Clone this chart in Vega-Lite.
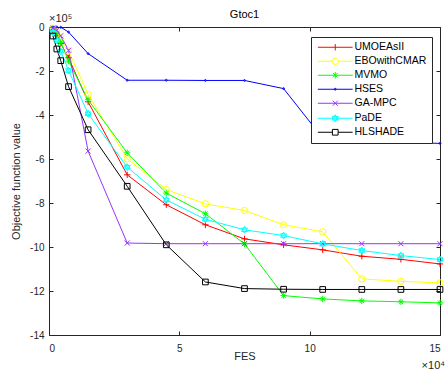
{
  "$schema": "https://vega.github.io/schema/vega-lite/v6.json",
  "width": 391,
  "height": 308,
  "autosize": "none",
  "padding": {"left": 49, "top": 27, "right": 6, "bottom": 45},
  "background": "white",
  "config": {
    "view": {"stroke": null},
    "font": "Liberation Sans",
    "axis": {
      "grid": false,
      "labelFont": "Liberation Sans",
      "labelFontSize": 10,
      "labelColor": "#262626",
      "domainColor": "#262626",
      "tickColor": "#262626",
      "tickSize": -4,
      "titleFont": "Liberation Sans",
      "titleFontSize": 11,
      "titleFontWeight": "normal",
      "titleColor": "#262626"
    }
  },
  "title": {"text": "Gtoc1", "font": "Liberation Sans", "fontSize": 11, "fontWeight": "normal", "color": "#000000", "offset": 8, "dy": 15},
  "datasets": {
    "conv": [
      {"a": "UMOEAsII", "x": 0.15, "y": -0.15}, {"a": "UMOEAsII", "x": 0.3, "y": -0.4}, {"a": "UMOEAsII", "x": 0.45, "y": -0.75}, {"a": "UMOEAsII", "x": 0.75, "y": -1.4}, {"a": "UMOEAsII", "x": 1.5, "y": -3.4}, {"a": "UMOEAsII", "x": 3, "y": -6.72}, {"a": "UMOEAsII", "x": 4.5, "y": -8.08}, {"a": "UMOEAsII", "x": 6, "y": -8.99}, {"a": "UMOEAsII", "x": 7.5, "y": -9.63}, {"a": "UMOEAsII", "x": 9, "y": -9.9}, {"a": "UMOEAsII", "x": 10.5, "y": -10.13}, {"a": "UMOEAsII", "x": 12, "y": -10.42}, {"a": "UMOEAsII", "x": 13.5, "y": -10.56}, {"a": "UMOEAsII", "x": 15, "y": -10.77},
      {"a": "EBOwithCMAR", "x": 0.15, "y": -0.05}, {"a": "EBOwithCMAR", "x": 0.3, "y": -0.2}, {"a": "EBOwithCMAR", "x": 0.45, "y": -0.5}, {"a": "EBOwithCMAR", "x": 0.75, "y": -1.09}, {"a": "EBOwithCMAR", "x": 1.5, "y": -3.07}, {"a": "EBOwithCMAR", "x": 3, "y": -5.99}, {"a": "EBOwithCMAR", "x": 4.5, "y": -7.39}, {"a": "EBOwithCMAR", "x": 6, "y": -8.04}, {"a": "EBOwithCMAR", "x": 7.5, "y": -8.34}, {"a": "EBOwithCMAR", "x": 9, "y": -8.99}, {"a": "EBOwithCMAR", "x": 10.5, "y": -9.31}, {"a": "EBOwithCMAR", "x": 12, "y": -11.45}, {"a": "EBOwithCMAR", "x": 13.5, "y": -11.56}, {"a": "EBOwithCMAR", "x": 15, "y": -11.63},
      {"a": "MVMO", "x": 0.15, "y": -0.1}, {"a": "MVMO", "x": 0.3, "y": -0.3}, {"a": "MVMO", "x": 0.45, "y": -0.7}, {"a": "MVMO", "x": 0.75, "y": -1.55}, {"a": "MVMO", "x": 1.5, "y": -3.31}, {"a": "MVMO", "x": 3, "y": -5.72}, {"a": "MVMO", "x": 4.5, "y": -7.55}, {"a": "MVMO", "x": 6, "y": -8.49}, {"a": "MVMO", "x": 7.5, "y": -9.86}, {"a": "MVMO", "x": 9, "y": -12.21}, {"a": "MVMO", "x": 10.5, "y": -12.36}, {"a": "MVMO", "x": 12, "y": -12.45}, {"a": "MVMO", "x": 13.5, "y": -12.49}, {"a": "MVMO", "x": 15, "y": -12.54},
      {"a": "HSES", "x": 0.15, "y": 0}, {"a": "HSES", "x": 0.3, "y": 0}, {"a": "HSES", "x": 0.45, "y": -0.01}, {"a": "HSES", "x": 0.75, "y": -0.23}, {"a": "HSES", "x": 1.5, "y": -1.21}, {"a": "HSES", "x": 3, "y": -2.42}, {"a": "HSES", "x": 4.5, "y": -2.42}, {"a": "HSES", "x": 6, "y": -2.43}, {"a": "HSES", "x": 7.5, "y": -2.43}, {"a": "HSES", "x": 9, "y": -2.8}, {"a": "HSES", "x": 10.5, "y": -5.05}, {"a": "HSES", "x": 12, "y": -5.2}, {"a": "HSES", "x": 13.5, "y": -5.25}, {"a": "HSES", "x": 15, "y": -5.29},
      {"a": "GA-MPC", "x": 0.15, "y": -0.05}, {"a": "GA-MPC", "x": 0.3, "y": -0.15}, {"a": "GA-MPC", "x": 0.45, "y": -0.4}, {"a": "GA-MPC", "x": 0.75, "y": -1.06}, {"a": "GA-MPC", "x": 1.5, "y": -5.64}, {"a": "GA-MPC", "x": 3, "y": -9.82}, {"a": "GA-MPC", "x": 4.5, "y": -9.85}, {"a": "GA-MPC", "x": 6, "y": -9.85}, {"a": "GA-MPC", "x": 7.5, "y": -9.85}, {"a": "GA-MPC", "x": 9, "y": -9.85}, {"a": "GA-MPC", "x": 10.5, "y": -9.85}, {"a": "GA-MPC", "x": 12, "y": -9.85}, {"a": "GA-MPC", "x": 13.5, "y": -9.85}, {"a": "GA-MPC", "x": 15, "y": -9.85},
      {"a": "PaDE", "x": 0.15, "y": -0.25}, {"a": "PaDE", "x": 0.3, "y": -0.6}, {"a": "PaDE", "x": 0.45, "y": -1.1}, {"a": "PaDE", "x": 0.75, "y": -1.98}, {"a": "PaDE", "x": 1.5, "y": -3.94}, {"a": "PaDE", "x": 3, "y": -6.37}, {"a": "PaDE", "x": 4.5, "y": -7.86}, {"a": "PaDE", "x": 6, "y": -8.74}, {"a": "PaDE", "x": 7.5, "y": -9.22}, {"a": "PaDE", "x": 9, "y": -9.48}, {"a": "PaDE", "x": 10.5, "y": -9.86}, {"a": "PaDE", "x": 12, "y": -10.16}, {"a": "PaDE", "x": 13.5, "y": -10.39}, {"a": "PaDE", "x": 15, "y": -10.57},
      {"a": "HLSHADE", "x": 0.15, "y": -0.41}, {"a": "HLSHADE", "x": 0.3, "y": -1.0}, {"a": "HLSHADE", "x": 0.45, "y": -1.53}, {"a": "HLSHADE", "x": 0.75, "y": -2.71}, {"a": "HLSHADE", "x": 1.5, "y": -4.67}, {"a": "HLSHADE", "x": 3, "y": -7.24}, {"a": "HLSHADE", "x": 4.5, "y": -9.9}, {"a": "HLSHADE", "x": 6, "y": -11.59}, {"a": "HLSHADE", "x": 7.5, "y": -11.89}, {"a": "HLSHADE", "x": 9, "y": -11.92}, {"a": "HLSHADE", "x": 10.5, "y": -11.93}, {"a": "HLSHADE", "x": 12, "y": -11.93}, {"a": "HLSHADE", "x": 13.5, "y": -11.93}, {"a": "HLSHADE", "x": 15, "y": -11.93}
    ]
  },
  "data": {"name": "conv"},
  "layer": [
    {
      "mark": {"type": "line", "strokeWidth": 1, "clip": true},
      "encoding": {
        "x": {"field": "x", "type": "quantitative", "scale": {"domain": [0, 15], "nice": false, "zero": false},
              "axis": {"orient": "bottom", "values": [0, 5, 10, 15], "title": "FES", "labelPadding": 12, "titlePadding": -3}},
        "y": {"field": "y", "type": "quantitative", "scale": {"domain": [-14, 0], "nice": false},
              "axis": {"orient": "left", "values": [0, -2, -4, -6, -8, -10, -12, -14], "title": "Objective function value", "labelPadding": 9, "titlePadding": 8, "labelExpr": "'' + datum.value"}},
        "color": {
          "field": "a", "type": "nominal",
          "scale": {"domain": ["UMOEAsII", "EBOwithCMAR", "MVMO", "HSES", "GA-MPC", "PaDE", "HLSHADE"],
                    "range": ["#FF0000", "#FFFF00", "#00FF00", "#0000FF", "#9933FF", "#00FFFF", "#000000"]},
          "legend": {
            "orient": "none", "legendX": 262, "legendY": 10, "title": null,
            "strokeColor": "#262626", "fillColor": "white", "padding": 5,
            "labelFont": "Liberation Sans", "labelFontSize": 10.5, "labelColor": "#000000",
            "symbolSize": 40, "symbolStrokeWidth": 1, "symbolOffset": 14, "labelOffset": 14, "rowPadding": 3,
            "encode": {"symbols": {"update": {
              "shape": {"signal": "datum.value === 'UMOEAsII' ? 'M-5.5,0L5.5,0M0,-1L0,1' : datum.value === 'EBOwithCMAR' ? 'M-5.5,0L-1,0M1,0L5.5,0M-1,0A1,1,0,1,1,1,0A1,1,0,1,1,-1,0' : datum.value === 'MVMO' ? 'M-5.5,0L5.5,0M0,-1L0,1M-0.7,-0.7L0.7,0.7M-0.7,0.7L0.7,-0.7' : datum.value === 'HSES' ? 'M-5.5,0L5.5,0M-0.3,0A0.3,0.3,0,1,1,0.3,0A0.3,0.3,0,1,1,-0.3,0' : datum.value === 'GA-MPC' ? 'M-5.5,0L5.5,0M-0.8,-0.8L0.8,0.8M-0.8,0.8L0.8,-0.8' : datum.value === 'PaDE' ? 'M-5.5,0L5.5,0M0,-1.1L0.95,0.55L-0.95,0.55ZM0,1.1L0.95,-0.55L-0.95,-0.55Z' : 'M-5.5,0L-0.9,0M0.9,0L5.5,0M-0.9,-0.9L0.9,-0.9L0.9,0.9L-0.9,0.9Z'"}
            }}}
          }
        }
      }
    },
    {
      "transform": [{"filter": {"field": "a", "equal": "UMOEAsII"}}],
      "mark": {"type": "point", "filled": false, "size": 40, "strokeWidth": 1, "opacity": 1, "color": "#FF0000", "shape": "M-1,0L1,0M0,-1L0,1"},
      "encoding": {
        "x": {"field": "x", "type": "quantitative", "scale": {"domain": [0, 15], "nice": false, "zero": false},
              "axis": {"orient": "top", "values": [0, 5, 10, 15], "labels": false, "title": null}},
        "y": {"field": "y", "type": "quantitative", "scale": {"domain": [-14, 0], "nice": false},
              "axis": {"orient": "right", "values": [0, -2, -4, -6, -8, -10, -12, -14], "labels": false, "title": null}}
      }
    },
    {
      "transform": [{"filter": {"field": "a", "equal": "EBOwithCMAR"}}],
      "mark": {"type": "point", "filled": false, "size": 40, "strokeWidth": 1, "opacity": 1, "color": "#FFFF00", "shape": "circle"},
      "encoding": {
        "x": {"field": "x", "type": "quantitative", "scale": {"domain": [0, 15], "nice": false, "zero": false}, "axis": null},
        "y": {"field": "y", "type": "quantitative", "scale": {"domain": [-14, 0], "nice": false}, "axis": null}
      }
    },
    {
      "transform": [{"filter": {"field": "a", "equal": "MVMO"}}],
      "mark": {"type": "point", "filled": false, "size": 40, "strokeWidth": 1, "opacity": 1, "color": "#00FF00", "shape": "M-1,0L1,0M0,-1L0,1M-0.7,-0.7L0.7,0.7M-0.7,0.7L0.7,-0.7"},
      "encoding": {
        "x": {"field": "x", "type": "quantitative", "scale": {"domain": [0, 15], "nice": false, "zero": false}, "axis": null},
        "y": {"field": "y", "type": "quantitative", "scale": {"domain": [-14, 0], "nice": false}, "axis": null}
      }
    },
    {
      "transform": [{"filter": {"field": "a", "equal": "HSES"}}],
      "mark": {"type": "point", "filled": false, "size": 40, "strokeWidth": 1, "opacity": 1, "color": "#0000FF", "shape": "M-0.3,0A0.3,0.3,0,1,1,0.3,0A0.3,0.3,0,1,1,-0.3,0"},
      "encoding": {
        "x": {"field": "x", "type": "quantitative", "scale": {"domain": [0, 15], "nice": false, "zero": false}, "axis": null},
        "y": {"field": "y", "type": "quantitative", "scale": {"domain": [-14, 0], "nice": false}, "axis": null}
      }
    },
    {
      "transform": [{"filter": {"field": "a", "equal": "GA-MPC"}}],
      "mark": {"type": "point", "filled": false, "size": 40, "strokeWidth": 1, "opacity": 1, "color": "#9933FF", "shape": "M-0.8,-0.8L0.8,0.8M-0.8,0.8L0.8,-0.8"},
      "encoding": {
        "x": {"field": "x", "type": "quantitative", "scale": {"domain": [0, 15], "nice": false, "zero": false}, "axis": null},
        "y": {"field": "y", "type": "quantitative", "scale": {"domain": [-14, 0], "nice": false}, "axis": null}
      }
    },
    {
      "transform": [{"filter": {"field": "a", "equal": "PaDE"}}],
      "mark": {"type": "point", "filled": false, "size": 40, "strokeWidth": 1, "opacity": 1, "color": "#00FFFF", "shape": "M0,-1.1L0.95,0.55L-0.95,0.55ZM0,1.1L0.95,-0.55L-0.95,-0.55Z"},
      "encoding": {
        "x": {"field": "x", "type": "quantitative", "scale": {"domain": [0, 15], "nice": false, "zero": false}, "axis": null},
        "y": {"field": "y", "type": "quantitative", "scale": {"domain": [-14, 0], "nice": false}, "axis": null}
      }
    },
    {
      "transform": [{"filter": {"field": "a", "equal": "HLSHADE"}}],
      "mark": {"type": "point", "filled": false, "size": 40, "strokeWidth": 1, "opacity": 1, "color": "#000000", "shape": "M-0.9,-0.9L0.9,-0.9L0.9,0.9L-0.9,0.9Z"},
      "encoding": {
        "x": {"field": "x", "type": "quantitative", "scale": {"domain": [0, 15], "nice": false, "zero": false}, "axis": null},
        "y": {"field": "y", "type": "quantitative", "scale": {"domain": [-14, 0], "nice": false}, "axis": null}
      }
    },
    {
      "data": {"values": [{"t": "×10⁵"}]},
      "mark": {"type": "text", "align": "left", "baseline": "bottom", "dy": -3, "fontSize": 11, "color": "#262626", "font": "Liberation Sans"},
      "encoding": {
        "x": {"datum": 0, "type": "quantitative", "scale": {"domain": [0, 15], "nice": false, "zero": false}, "axis": null},
        "y": {"datum": 0, "type": "quantitative", "scale": {"domain": [-14, 0], "nice": false}, "axis": null},
        "text": {"field": "t"}
      }
    },
    {
      "data": {"values": [{"t": "×10⁴"}]},
      "mark": {"type": "text", "align": "right", "baseline": "top", "dx": 5, "dy": 25, "fontSize": 11, "color": "#262626", "font": "Liberation Sans"},
      "encoding": {
        "x": {"datum": 15, "type": "quantitative", "scale": {"domain": [0, 15], "nice": false, "zero": false}, "axis": null},
        "y": {"datum": -14, "type": "quantitative", "scale": {"domain": [-14, 0], "nice": false}, "axis": null},
        "text": {"field": "t"}
      }
    }
  ],
  "resolve": {"axis": {"x": "independent", "y": "independent"}}
}
